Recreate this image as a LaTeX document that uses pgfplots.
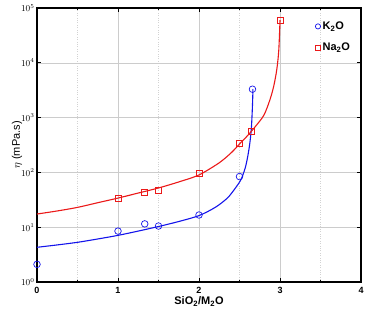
\documentclass[border=0pt]{standalone}
\usepackage{fontspec}
\setmainfont{Liberation Sans}
\usepackage{pgfplots}
\pgfplotsset{compat=1.18}

\definecolor{kblue}{RGB}{20,20,235}
\definecolor{nared}{RGB}{235,25,25}

\begin{document}
\begin{tikzpicture}
\useasboundingbox (-37pt,-35pt) rectangle (329pt,282pt);
\begin{axis}[
  scale only axis,
  width=324pt, height=274pt,
  ymode=log,
  xmin=0, xmax=4, ymin=1, ymax=1e5,
  xtick={0,1,2,3,4},
  minor x tick num=1,
  ytick={1,10,100,1000,10000,100000},
  log basis y=10,
  grid=both,
  major grid style={gray!40, line width=0.5pt},
  minor grid style={gray!35, dotted, line width=0.4pt},
  axis line style={line width=1.3pt},
  major tick length=4pt, minor tick length=2.5pt,
  tick style={black, line width=0.8pt},
  tick label style={font=\fontsize{9}{10}\selectfont\bfseries},
  /pgf/number format/assume math mode=true,
  xticklabel style={yshift=-2pt},
  yticklabel style={xshift=1pt},
  xlabel={\bfseries SiO\textsubscript{2}/M\textsubscript{2}O},
  xlabel style={font=\fontsize{11}{12}\selectfont, yshift=4pt},
  ylabel={$\eta$ (mPa.s)},
  ylabel style={font=\fontsize{11}{12}\selectfont, yshift=-8pt},
  legend style={at={(0.982,0.965)}, anchor=north east, draw=none, fill=none,
    font=\fontsize{11}{12}\selectfont\bfseries, row sep=8pt},
  legend image post style={xshift=-5pt, mark size=2.6pt},
  legend cell align=left,
  clip=true,
]
% fitted curves
\addplot[kblue, line width=1.1pt, smooth, forget plot] coordinates {
  (0,4.3) (0.25,4.75) (0.5,5.3) (0.75,6.1) (1.0,7.1) (1.25,8.5) (1.5,10.3)
  (1.75,12.7) (2.0,16.3) (2.2,23) (2.35,34) (2.45,52) (2.52,75) (2.57,120)
  (2.6,190) (2.625,320) (2.645,600) (2.655,1100) (2.662,2000) (2.666,3300)
};
\addplot[nared, line width=1.1pt, smooth, forget plot] coordinates {
  (0,17.4) (0.25,19.8) (0.5,23) (0.75,28) (1.0,34) (1.25,42) (1.5,52)
  (1.75,67) (2.0,90) (2.25,150) (2.4,230) (2.5,330) (2.6,470) (2.7,700)
  (2.8,1100) (2.87,2000) (2.92,3600) (2.96,7500) (2.985,17000) (3.0,60000)
};
% measured values
\addplot[only marks, mark=o, mark size=3.3pt, kblue,
  mark options={draw=kblue, line width=0.7pt}]
  coordinates {(0,2.1) (1,8.5) (1.33,11.5) (1.5,10.5) (2,16.7) (2.5,84) (2.66,3300)};
\addlegendentry{K\textsubscript{2}O}
\addplot[only marks, mark=square, mark size=3pt, nared,
  mark options={draw=nared, line width=0.7pt}]
  coordinates {(1,34) (1.33,44) (1.5,48) (2,98) (2.5,345) (2.65,550) (3.0,60000)};
\addlegendentry{Na\textsubscript{2}O}
\end{axis}
\end{tikzpicture}
\end{document}
